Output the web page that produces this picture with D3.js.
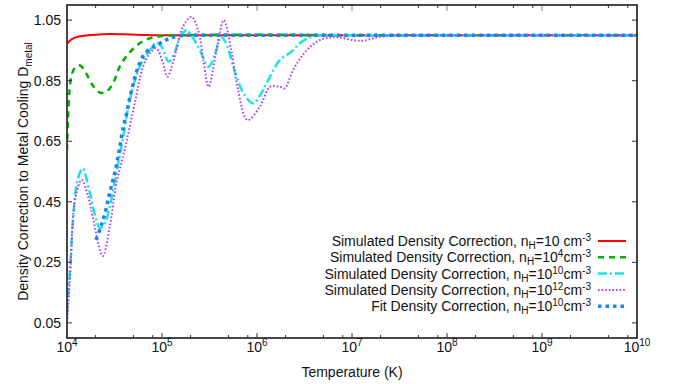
<!DOCTYPE html>
<html>
<head>
<meta charset="utf-8">
<script src="https://cdn.jsdelivr.net/npm/d3@7"></script>
<style>
  body { margin: 0; background: #fff; }
  svg { font-family: "Liberation Sans", Arial, sans-serif; }
</style>
</head>
<body>
<div id="chart"></div>
<script>
// log10 of temperature (K) and density correction
const redLogT   = [4.0, 4.03, 4.06, 4.1, 4.15, 4.2, 4.3, 4.45, 4.6, 4.8, 5.0, 6.0, 7.0, 8.0, 9.0, 10.0];
const redD      = [0.972, 0.982, 0.989, 0.994, 0.997, 0.999, 1.002, 1.004, 1.003, 1.001, 1.0, 1.0, 1.0, 1.0, 1.0, 1.0];

const greenLogT = [4.0, 4.01, 4.025, 4.05, 4.09, 4.14, 4.2, 4.27, 4.35, 4.42, 4.49, 4.56, 4.65, 4.75, 4.85, 4.98, 5.2, 6.0, 7.0, 8.0, 9.0, 10.0];
const greenD    = [0.62, 0.72, 0.81, 0.87, 0.895, 0.9, 0.875, 0.835, 0.81, 0.815, 0.845, 0.9, 0.94, 0.97, 0.988, 0.997, 1.0, 1.002, 1.0, 1.0, 1.0, 1.0];

const cyanLogT  = [4.0, 4.03, 4.066, 4.11, 4.165, 4.24, 4.3, 4.347, 4.4, 4.45, 4.54, 4.59, 4.66, 4.77, 4.87, 4.94, 5.0, 5.07, 5.13, 5.19, 5.26, 5.33, 5.4, 5.49, 5.56, 5.62, 5.68, 5.75, 5.856, 5.96, 6.03, 6.1, 6.24, 6.365, 6.45, 6.58, 6.7, 7.0, 8.0, 9.0, 10.0];
const cyanD     = [0.08, 0.22, 0.4, 0.52, 0.56, 0.48, 0.4, 0.363, 0.38, 0.434, 0.578, 0.66, 0.786, 0.9, 0.95, 0.976, 0.96, 0.913, 0.94, 0.995, 1.017, 0.99, 0.95, 0.896, 0.94, 0.995, 0.97, 0.896, 0.81, 0.775, 0.8, 0.841, 0.918, 0.946, 0.974, 0.995, 1.0, 1.0, 1.0, 1.0, 1.0];

const violetLogT = [4.0, 4.04, 4.084, 4.155, 4.22, 4.277, 4.376, 4.45, 4.52, 4.59, 4.63, 4.72, 4.8, 4.87, 4.94, 5.01, 5.056, 5.15, 5.22, 5.31, 5.38, 5.435, 5.49, 5.58, 5.65, 5.73, 5.8, 5.9, 6.03, 6.137, 6.24, 6.29, 6.38, 6.47, 6.56, 6.66, 6.77, 6.87, 7.01, 7.12, 7.22, 7.33, 7.5, 8.0, 9.0, 10.0];
const violetD    = [0.04, 0.25, 0.456, 0.522, 0.47, 0.39, 0.271, 0.368, 0.511, 0.6, 0.654, 0.786, 0.896, 0.94, 0.957, 0.908, 0.863, 0.95, 1.028, 1.061, 1.017, 0.918, 0.83, 0.962, 1.05, 0.95, 0.82, 0.72, 0.764, 0.83, 0.83, 0.825, 0.885, 0.93, 0.962, 0.984, 0.993, 0.993, 0.984, 0.982, 0.99, 0.997, 1.0, 1.0, 1.0, 1.0];

const fitLogT   = [4.305, 4.355, 4.4, 4.45, 4.505, 4.55, 4.593, 4.628, 4.663, 4.698, 4.75, 4.82, 4.91, 5.014, 5.08, 5.17, 5.3, 6.0, 7.0, 8.0, 9.0, 10.0];
const fitD      = [0.324, 0.366, 0.412, 0.48, 0.549, 0.621, 0.698, 0.742, 0.797, 0.841, 0.896, 0.94, 0.962, 0.979, 0.99, 0.998, 1.0, 1.0, 1.0, 1.0, 1.0, 1.0];

const yTicks = [0.05, 0.25, 0.45, 0.65, 0.85, 1.05];
const xDecades = [4, 5, 6, 7, 8, 9, 10];
const minorMultipliers = [2, 5, 8];

const series = [
  { prefix: 'Simulated Density Correction, n', exp: null, logT: redLogT, d: redD,
    color: '#ff0000', width: 2, dash: null },
  { prefix: 'Simulated Density Correction, n', exp: '4', logT: greenLogT, d: greenD,
    color: '#00b000', width: 2.5, dash: '6,5' },
  { prefix: 'Simulated Density Correction, n', exp: '10', logT: cyanLogT, d: cyanD,
    color: '#19e3e3', width: 2.5, dash: '9,3,2,3' },
  { prefix: 'Simulated Density Correction, n', exp: '12', logT: violetLogT, d: violetD,
    color: '#b43cf5', width: 2, dash: '1.6,2' },
  { prefix: 'Fit Density Correction, n', exp: '10', logT: fitLogT, d: fitD,
    color: '#1a82f0', width: 3.5, dash: '3.5,4' }
];

const width = 676, height = 384;
const mLeft = 67, mRight = 637, mTop = 5, mBottom = 338;

const svg = d3.select('#chart').append('svg')
  .attr('width', width).attr('height', height);

const x = d3.scaleLog().domain([1e4, 1e10]).range([mLeft, mRight]);
const y = d3.scaleLinear().domain([0, 1.1]).range([mBottom, mTop]);

const plot = svg.append('g');
plot.append('clipPath').attr('id', 'clip')
  .append('rect').attr('x', mLeft).attr('y', mTop).attr('width', mRight - mLeft).attr('height', mBottom - mTop);

const line = d3.line()
  .x(d => x(Math.pow(10, d[0])))
  .y(d => y(d[1]))
  .curve(d3.curveCatmullRom.alpha(0.5));

const curves = plot.append('g').attr('clip-path', 'url(#clip)');
series.forEach(s => {
  curves.append('path')
    .datum(d3.zip(s.logT, s.d))
    .attr('fill', 'none')
    .attr('stroke', s.color)
    .attr('stroke-width', s.width)
    .attr('stroke-dasharray', s.dash)
    .attr('d', line);
});

// frame and ticks (gnuplot style, inward on all sides)
const axisColor = '#333';
const ticks = svg.append('g').attr('stroke', axisColor).attr('stroke-width', 1);
yTicks.forEach(v => {
  ticks.append('line').attr('x1', mLeft).attr('x2', mLeft + 5).attr('y1', y(v)).attr('y2', y(v));
  ticks.append('line').attr('x1', mRight).attr('x2', mRight - 5).attr('y1', y(v)).attr('y2', y(v));
});
xDecades.forEach(e => {
  const px = x(Math.pow(10, e));
  ticks.append('line').attr('x1', px).attr('x2', px).attr('y1', mBottom).attr('y2', mBottom - 5);
  ticks.append('line').attr('x1', px).attr('x2', px).attr('y1', mTop).attr('y2', mTop + 6)
    .attr('stroke', '#888');
  if (e < 10) minorMultipliers.forEach(m => {
    const mx = x(m * Math.pow(10, e));
    ticks.append('line').attr('x1', mx).attr('x2', mx).attr('y1', mBottom).attr('y2', mBottom - 3);
    ticks.append('line').attr('x1', mx).attr('x2', mx).attr('y1', mTop).attr('y2', mTop + 3);
  });
});

svg.append('rect')
  .attr('x', mLeft).attr('y', mTop).attr('width', mRight - mLeft).attr('height', mBottom - mTop)
  .attr('fill', 'none').attr('stroke', axisColor).attr('stroke-width', 1.8);

// tick labels
svg.append('g').selectAll('text').data(yTicks).join('text')
  .attr('x', mLeft - 6).attr('y', d => y(d) + 5)
  .attr('text-anchor', 'end').attr('font-size', 14).attr('fill', '#111')
  .text(d => d3.format('.2f')(d));

const xl = svg.append('g').selectAll('text').data(xDecades).join('text')
  .attr('x', d => x(Math.pow(10, d))).attr('y', mBottom + 14)
  .attr('text-anchor', 'middle').attr('font-size', 14).attr('fill', '#111');
xl.append('tspan').text('10');
xl.append('tspan').attr('dy', -6).attr('font-size', 10).text(d => d);

svg.append('text')
  .attr('x', (mLeft + mRight) / 2).attr('y', 377)
  .attr('text-anchor', 'middle').attr('font-size', 14).attr('fill', '#111')
  .text('Temperature (K)');

const yl = svg.append('text')
  .attr('transform', `translate(28,${(mTop + mBottom) / 2}) rotate(-90)`)
  .attr('text-anchor', 'middle').attr('font-size', 14).attr('fill', '#111');
yl.append('tspan').text('Density Correction to Metal Cooling D');
yl.append('tspan').attr('dy', 4).attr('font-size', 10).text('metal');

// legend
const legendRight = 591, rowY0 = 241, rowStep = 16.3;
const legend = svg.append('g');
series.forEach((s, i) => {
  const ry = rowY0 + i * rowStep;
  const t = legend.append('text')
    .attr('x', legendRight).attr('y', ry + 5)
    .attr('text-anchor', 'end').attr('font-size', 14).attr('fill', '#111');
  t.append('tspan').text(s.prefix);
  t.append('tspan').attr('dy', 3).attr('font-size', 10).text('H');
  if (s.exp === null) {
    t.append('tspan').attr('dy', -3).text('=10 cm');
  } else {
    t.append('tspan').attr('dy', -3).text('=10');
    t.append('tspan').attr('dy', -5).attr('font-size', 10).text(s.exp);
    t.append('tspan').attr('dy', 5).text('cm');
  }
  t.append('tspan').attr('dy', -5).attr('font-size', 10).text('-3');
  legend.append('line')
    .attr('x1', 598).attr('x2', 626).attr('y1', ry).attr('y2', ry)
    .attr('stroke', s.color).attr('stroke-width', s.width)
    .attr('stroke-dasharray', s.dash);
});
</script>
</body>
</html>
